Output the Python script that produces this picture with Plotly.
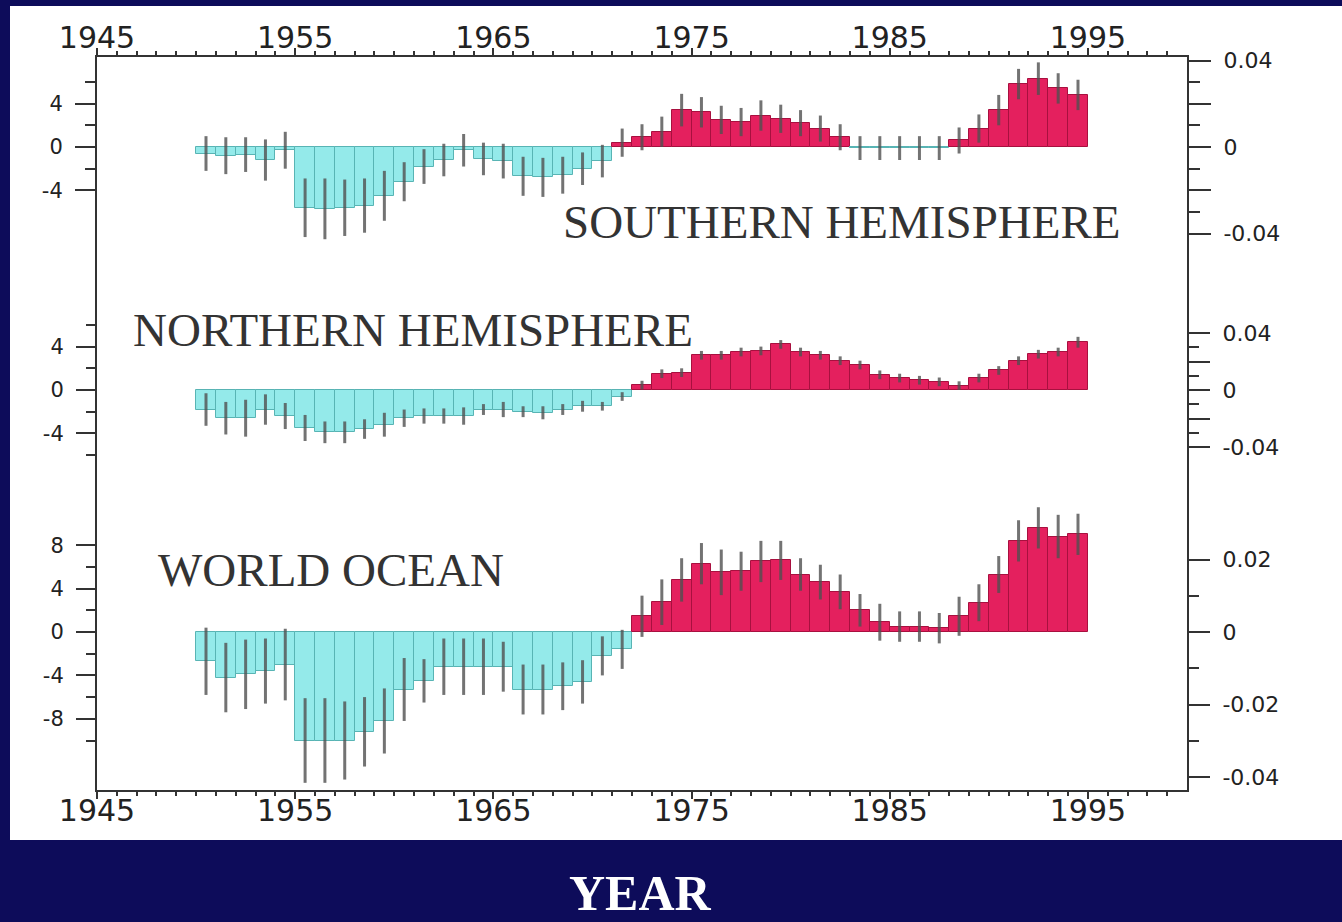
import plotly.graph_objects as go

# ---------------- data ----------------
years = list(range(1950, 1995))

south_vals = [-0.6, -0.8, -0.7, -1.2, -0.3,
              -5.6, -5.7, -5.6, -5.4, -4.5,
              -3.2, -1.8, -1.2, -0.3, -1.1,
              -1.3, -2.7, -2.8, -2.6, -2.0,
              -1.3, 0.4, 0.9, 1.4, 3.4,
              3.2, 2.5, 2.3, 2.9, 2.6,
              2.2, 1.7, 0.9, -0.1, -0.1,
              -0.1, -0.1, -0.1, 0.6, 1.7,
              3.4, 5.8, 6.3, 5.4, 4.8]
south_errs = [1.6, 1.7, 1.6, 1.9, 1.7,
              2.7, 2.8, 2.6, 2.5, 2.3,
              1.8, 1.6, 1.5, 1.5, 1.5,
              1.6, 1.8, 1.8, 1.7, 1.5,
              1.5, 1.3, 1.2, 1.4, 1.5,
              1.4, 1.3, 1.3, 1.4, 1.3,
              1.2, 1.2, 1.2, 1.1, 1.1,
              1.1, 1.1, 1.1, 1.2, 1.3,
              1.4, 1.4, 1.5, 1.4, 1.4]

north_vals = [-1.8, -2.6, -2.6, -1.8, -2.4,
              -3.5, -3.9, -3.9, -3.6, -3.2,
              -2.6, -2.4, -2.4, -2.4, -1.8,
              -1.8, -2.0, -2.1, -1.8, -1.5,
              -1.5, -0.6, 0.45, 1.5, 1.6,
              3.2, 3.2, 3.5, 3.6, 4.2,
              3.5, 3.2, 2.7, 2.3, 1.4,
              1.1, 0.9, 0.75, 0.4, 1.1,
              1.8, 2.7, 3.3, 3.5, 4.4]
north_errs = [1.5, 1.5, 1.7, 1.4, 1.2,
              1.2, 1.0, 1.0, 0.9, 1.1,
              0.8, 0.7, 0.7, 0.8, 0.5,
              0.7, 0.5, 0.6, 0.5, 0.5,
              0.4, 0.4, 0.4, 0.4, 0.4,
              0.4, 0.4, 0.4, 0.4, 0.4,
              0.4, 0.4, 0.4, 0.4, 0.4,
              0.4, 0.4, 0.4, 0.4, 0.4,
              0.4, 0.4, 0.4, 0.4, 0.5]

world_vals = [-2.7, -4.2, -3.9, -3.6, -3.0,
              -10.0, -10.0, -10.0, -9.2, -8.2,
              -5.3, -4.5, -3.2, -3.2, -3.2,
              -3.2, -5.3, -5.3, -5.0, -4.6,
              -2.2, -1.6, 1.45, 2.75, 4.8,
              6.3, 5.5, 5.6, 6.5, 6.6,
              5.3, 4.6, 3.7, 2.0, 0.9,
              0.5, 0.5, 0.35, 1.45, 2.7,
              5.3, 8.4, 9.6, 8.8, 9.0]
world_errs = [3.1, 3.2, 3.2, 3.0, 3.3,
              3.9, 3.9, 3.6, 3.2, 3.0,
              2.9, 2.0, 2.6, 2.6, 2.6,
              2.3, 2.3, 2.3, 2.2, 2.0,
              1.8, 1.8, 1.9, 2.1, 2.0,
              1.9, 2.1, 1.8, 1.9, 1.8,
              1.5, 1.6, 1.6, 1.5, 1.7,
              1.4, 1.4, 1.4, 1.8, 1.7,
              1.7, 1.9, 1.9, 2.0, 1.9]

x_tick_vals = [1945, 1955, 1965, 1975, 1985, 1995]
x_tick_text = ["1945", "1955", "1965", "1975", "1985", "1995"]
x_minor_vals = list(range(1946, 2000))

south_left_ticks = [4, 0, -4]
south_left_text = ["4", "0", "-4"]
south_left_minor = [6, 2, -2]
north_left_ticks = [4, 0, -4]
north_left_text = ["4", "0", "-4"]
north_left_minor = [6, 2, -2, -6]
world_left_ticks = [8, 4, 0, -4, -8]
world_left_text = ["8", "4", "0", "-4", "-8"]
world_left_minor = [6, 2, -2, -6, -10]

south_right_ticks = [0.04, 0.02, 0, -0.02, -0.04]
south_right_text = ["0.04", "", "0", "", "-0.04"]
south_right_minor = [0.03, 0.01, -0.01, -0.03]
north_right_ticks = [0.04, 0.02, 0, -0.02, -0.04]
north_right_text = ["0.04", "", "0", "", "-0.04"]
north_right_minor = [0.03, 0.01, -0.01, -0.03]
world_right_ticks = [0.02, 0, -0.02, -0.04]
world_right_text = ["0.02", "0", "-0.02", "-0.04"]
world_right_minor = [0.01, -0.01, -0.03]

panel_labels = ["SOUTHERN HEMISPHERE", "NORTHERN HEMISPHERE", "WORLD OCEAN"]
x_title = "YEAR"

# ---------------- style / geometry ----------------
W, H = 1342, 922
PL, PR, PT, PB = 97, 1187, 57, 790   # plot-area pixel box
NAVY = "#0d0c5a"
CYAN, CYAN_EDGE = "#94eaea", "#58b4b4"
RED, RED_EDGE = "#e4205e", "#a8103f"
AXC = "#333333"
TICKFONT = "DejaVu Sans"

LEFT_SCALE = 10.85  # px per unit, left axes
panels = [
    dict(vals=south_vals, errs=south_errs, zero=147, rscale=2162.5,
         lt=south_left_ticks, ltt=south_left_text, lm=south_left_minor,
         rt=south_right_ticks, rtt=south_right_text, rm=south_right_minor),
    dict(vals=north_vals, errs=north_errs, zero=390, rscale=1425.0,
         lt=north_left_ticks, ltt=north_left_text, lm=north_left_minor,
         rt=north_right_ticks, rtt=north_right_text, rm=north_right_minor),
    dict(vals=world_vals, errs=world_errs, zero=632, rscale=3625.0,
         lt=world_left_ticks, ltt=world_left_text, lm=world_left_minor,
         rt=world_right_ticks, rtt=world_right_text, rm=world_right_minor),
]

fig = go.Figure()

layout_axes = {}
for i, p in enumerate(panels):
    left_id = 2 * i + 1
    right_id = 2 * i + 2
    lname = "yaxis" if left_id == 1 else f"yaxis{left_id}"
    rname = f"yaxis{right_id}"
    lref = "y" if left_id == 1 else f"y{left_id}"
    rref = f"y{right_id}"

    colors = [RED if v >= 0 else CYAN for v in p["vals"]]
    edges = [RED_EDGE if v >= 0 else CYAN_EDGE for v in p["vals"]]
    fig.add_trace(go.Bar(
        x=years, y=p["vals"], width=1, offset=0, yaxis=lref,
        marker=dict(color=colors, line=dict(color=edges, width=1)),
        error_y=dict(type="data", array=p["errs"], color="rgba(80,80,80,0.8)",
                     thickness=3, width=0),
        showlegend=False, hoverinfo="x+y",
    ))
    # transparent companion trace so the right-hand axis is drawn
    fig.add_trace(go.Scatter(
        x=years, y=p["vals"], yaxis=rref, mode="markers",
        marker=dict(opacity=0), showlegend=False, hoverinfo="skip",
    ))

    z = p["zero"]
    lrange = [(z - PB) / LEFT_SCALE, (z - PT) / LEFT_SCALE]
    rrange = [(z - PB) / p["rscale"], (z - PT) / p["rscale"]]

    laxis = dict(range=lrange, domain=[0, 1], anchor="x",
                 tickmode="array", tickvals=p["lt"], ticktext=p["ltt"],
                 ticks="outside", ticklen=20, tickwidth=2, tickcolor=AXC,
                 ticklabelstandoff=8,
                 minor=dict(tickmode="array", tickvals=p["lm"], ticks="outside",
                            ticklen=10, tickwidth=2, tickcolor=AXC, showgrid=False),
                 tickfont=dict(family=TICKFONT, size=21, color="#222"),
                 showgrid=False, zeroline=False,
                 showline=(i == 0), linecolor=AXC, linewidth=2, fixedrange=True)
    if i > 0:
        laxis["overlaying"] = "y"
    layout_axes[lname] = laxis

    layout_axes[rname] = dict(range=rrange, domain=[0, 1], anchor="x",
                              overlaying="y", side="right",
                              tickmode="array", tickvals=p["rt"], ticktext=p["rtt"],
                              ticks="outside", ticklen=22, tickwidth=2, tickcolor=AXC,
                              ticklabelstandoff=8,
                              minor=dict(tickmode="array", tickvals=p["rm"], ticks="outside",
                                         ticklen=11, tickwidth=2, tickcolor=AXC, showgrid=False),
                              tickfont=dict(family=TICKFONT, size=22, color="#222"),
                              showgrid=False, zeroline=False,
                              showline=(i == 0), linecolor=AXC, linewidth=2)

# transparent companion trace for the top year axis
fig.add_trace(go.Scatter(
    x=years, y=world_vals, xaxis="x2", yaxis="y5", mode="markers",
    marker=dict(opacity=0), showlegend=False, hoverinfo="skip",
))

xcommon = dict(range=[1945, 2000], tickmode="array", tickvals=x_tick_vals,
               ticktext=x_tick_text, ticks="outside", ticklen=7, tickwidth=2,
               tickcolor=AXC,
               minor=dict(tickmode="array", tickvals=x_minor_vals, ticks="outside",
                          ticklen=4, tickwidth=2, tickcolor=AXC, showgrid=False),
               tickfont=dict(family=TICKFONT, size=30, color="#222"),
               showgrid=False, zeroline=False, showline=True,
               linecolor=AXC, linewidth=2)

fig.update_layout(
    width=W, height=H,
    margin=dict(l=PL, r=W - PR, t=PT, b=H - PB, pad=0),
    paper_bgcolor=NAVY, plot_bgcolor="white",
    bargap=0, barmode="overlay",
    xaxis=dict(**xcommon, anchor="y", side="bottom", ticklabelstandoff=-14),
    xaxis2=dict(**xcommon, anchor="y", side="top", overlaying="x",
                ticklabelstandoff=-12),
    **layout_axes,
)

# white card behind the chart
pw, ph = PR - PL, PB - PT
def px(xp):
    return (xp - PL) / pw
def py(yp):
    return (PB - yp) / ph

fig.add_shape(type="rect", xref="paper", yref="paper", layer="below",
              x0=px(10), x1=px(W + 5), y0=py(840), y1=py(6),
              fillcolor="white", line=dict(width=0))

label_pos = [(842, 222), (413, 330), (331, 570)]
for text, (cx, cy) in zip(panel_labels, label_pos):
    fig.add_annotation(text=text, xref="paper", yref="paper", x=px(cx), y=py(cy),
                       showarrow=False, xanchor="center", yanchor="middle",
                       font=dict(family="Liberation Serif", size=47, color="#333"))

fig.add_annotation(text=f"<b>{x_title}</b>", xref="paper", yref="paper",
                   x=px(640), y=py(893), showarrow=False,
                   xanchor="center", yanchor="middle",
                   font=dict(family="Liberation Serif", size=50, color="white"))

fig.write_html("out.html", config={"displayModeBar": False},
               post_script="document.body.style.margin='0px';")
